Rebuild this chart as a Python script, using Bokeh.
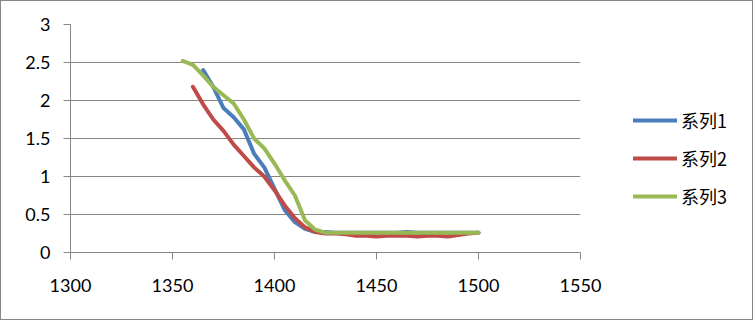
from bokeh.plotting import figure
from bokeh.models import (Range1d, FixedTicker, NumeralTickFormatter, Legend, LegendItem,
                          ColumnDataSource)
from bokeh.layouts import row
from bokeh.embed import file_html
from bokeh.resources import INLINE

# ---- data ----
x1 = [1365, 1370, 1375, 1380, 1385, 1390, 1395, 1400, 1405, 1410, 1415, 1420, 1425, 1430,
      1435, 1440, 1445, 1450, 1455, 1460, 1465, 1470, 1475, 1480, 1485, 1490, 1495, 1500]
y1 = [2.40, 2.18, 1.90, 1.78, 1.62, 1.30, 1.12, 0.84, 0.56, 0.40, 0.31, 0.27, 0.27, 0.26,
      0.26, 0.26, 0.26, 0.26, 0.26, 0.26, 0.27, 0.26, 0.26, 0.26, 0.26, 0.26, 0.26, 0.26]

x2 = [1360, 1365, 1370, 1375, 1380, 1385, 1390, 1395, 1400, 1405, 1410, 1415, 1420, 1425,
      1430, 1435, 1440, 1445, 1450, 1455, 1460, 1465, 1470, 1475, 1480, 1485, 1490, 1495, 1500]
y2 = [2.18, 1.95, 1.75, 1.60, 1.42, 1.27, 1.12, 1.00, 0.82, 0.62, 0.45, 0.33, 0.27, 0.25,
      0.25, 0.24, 0.22, 0.22, 0.21, 0.22, 0.22, 0.22, 0.21, 0.22, 0.22, 0.21, 0.23, 0.25, 0.26]

x3 = [1355, 1360, 1365, 1370, 1375, 1380, 1385, 1390, 1395, 1400, 1405, 1410, 1415, 1420,
      1425, 1430, 1435, 1440, 1445, 1450, 1455, 1460, 1465, 1470, 1475, 1480, 1485, 1490,
      1495, 1500]
y3 = [2.52, 2.47, 2.33, 2.18, 2.07, 1.96, 1.75, 1.50, 1.37, 1.17, 0.95, 0.75, 0.42, 0.30,
      0.26, 0.26, 0.26, 0.26, 0.26, 0.26, 0.26, 0.26, 0.26, 0.26, 0.26, 0.26, 0.26, 0.26,
      0.26, 0.26]

series_names = ["系列1", "系列2", "系列3"]
x_ticks = [1300, 1350, 1400, 1450, 1500, 1550]
y_ticks = [0, 0.5, 1, 1.5, 2, 2.5, 3]

colors = ["#4A7EBB", "#BE4B48", "#98B954"]
FONT = "Lato"
GRAY = "#868686"

# ---- main chart ----
p = figure(width=601, height=318, output_backend="svg", toolbar_location=None,
           x_range=Range1d(1300, 1550), y_range=Range1d(0, 3),
           min_border_left=69, min_border_right=22, min_border_top=23, min_border_bottom=67)
p.outline_line_color = None
p.background_fill_color = "white"
p.border_fill_color = "white"

p.xgrid.grid_line_color = None
p.ygrid.grid_line_color = GRAY
p.ygrid.grid_line_width = 1

for ax in (p.xaxis[0], p.yaxis[0]):
    ax.axis_line_color = GRAY
    ax.major_tick_line_color = GRAY
    ax.major_tick_in = 0
    ax.major_tick_out = 7
    ax.minor_tick_line_color = None
    ax.major_label_text_font = FONT
    ax.major_label_text_font_size = "18px"
    ax.major_label_text_color = "black"

p.xaxis[0].ticker = FixedTicker(ticks=x_ticks)
p.yaxis[0].ticker = FixedTicker(ticks=y_ticks)
p.yaxis[0].formatter = NumeralTickFormatter(format="0.[0]")
p.xaxis[0].formatter = NumeralTickFormatter(format="0")
p.yaxis[0].major_label_standoff = 13
p.xaxis[0].major_label_standoff = 19

for xs, ys, c in zip([x1, x2, x3], [y1, y2, y3], colors):
    p.line(xs, ys, line_color=c, line_width=4, line_join="round", line_cap="round")

# ---- legend panel (separate figure, right of the chart) ----
lp = figure(width=150, height=318, output_backend="svg", toolbar_location=None,
            x_range=Range1d(0, 1), y_range=Range1d(0, 1),
            min_border_left=0, min_border_right=0, min_border_top=0, min_border_bottom=0)
lp.axis.visible = False
lp.grid.visible = False
lp.outline_line_color = None
lp.background_fill_color = "white"
lp.border_fill_color = "white"

items = []
for n, c in zip(series_names, colors):
    src = ColumnDataSource(data=dict(x=[float("nan")], y=[float("nan")]))
    r = lp.line("x", "y", source=src, line_color=c, line_width=4, line_cap="round")
    items.append(LegendItem(label=n, renderers=[r]))

legend = Legend(items=items, location=(31, 43), orientation="vertical",
                padding=0, margin=0, spacing=12,
                glyph_width=44, glyph_height=20, label_height=20, label_standoff=4,
                label_text_font="Noto Sans CJK SC", label_text_font_size="18px",
                label_text_color="black",
                border_line_color=None, background_fill_alpha=0)
lp.add_layout(legend)

layout = row(p, lp, spacing=0, styles={"border": "1px solid #868686", "background": "white"})

open("out.html", "w").write(file_html(layout, INLINE))
